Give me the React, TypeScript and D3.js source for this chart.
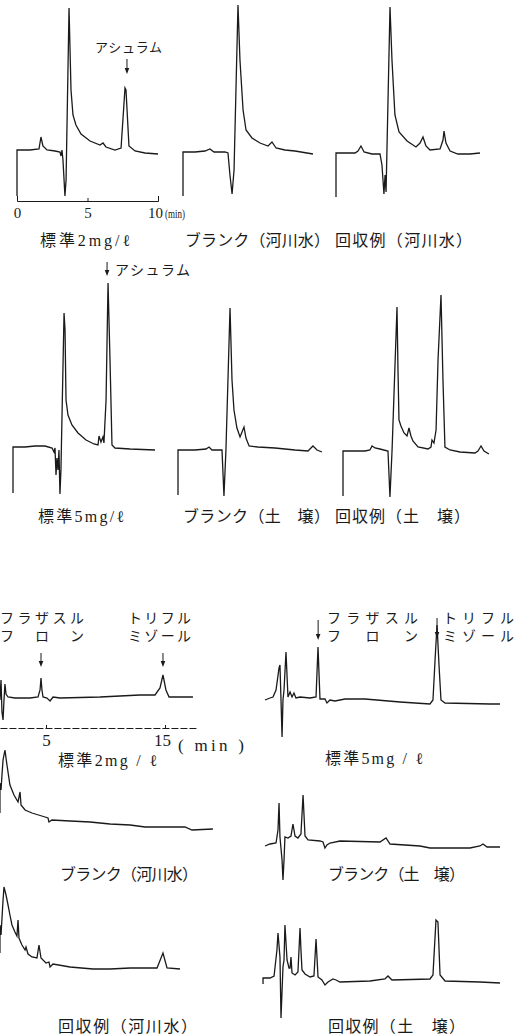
import { useEffect, useRef } from "react";
import * as d3 from "d3";

type Pt = [number, number];

// [retention time (min), detector response (arbitrary units, 0 = baseline)]
// ---- asulam, upper two rows ----
const asulamStd2: Pt[] = [
  [0, -46], [0, 0], [0.92, 0], [1.56, 1], [1.7, 13], [1.84, 4], [2.13, 0], [2.7, -1],
  [3.05, -2], [3.12, -6], [3.19, 0], [3.26, -10], [3.4, -46], [3.48, -30], [3.69, 142],
  [3.83, 60], [3.97, 35], [4.18, 25], [4.54, 16], [5.18, 9], [5.89, 5], [6.1, 7],
  [6.31, 3], [6.95, 0], [7.38, 2], [7.66, 62], [7.73, 60], [7.94, 4], [8.37, -1],
  [9.08, -3], [10.0, -4],
];
const asulamBlankRiver: Pt[] = [
  [0, -44], [0, 0], [0.85, 0], [1.56, 1], [1.91, 3], [2.2, 0], [2.98, 0], [3.19, -1],
  [3.33, -23], [3.48, -42], [3.62, -18], [3.9, 147], [4.04, 92], [4.26, 42], [4.47, 22],
  [4.89, 14], [5.46, 9], [6.03, 6], [6.31, 10], [6.6, 4], [7.23, 2], [7.94, 1], [9.22, -2],
];
const asulamRecRiver: Pt[] = [
  [0, -44], [0, 0], [1.35, 0], [1.56, 2], [1.77, 7], [1.99, 1], [2.55, -1], [3.12, -1],
  [3.26, -12], [3.4, -41], [3.48, -22], [3.55, -39], [3.83, 146], [3.97, 93], [4.18, 38],
  [4.47, 21], [5.04, 12], [5.67, 6], [5.96, 10], [6.17, 16], [6.38, 7], [6.67, 3],
  [7.38, 4], [7.59, 13], [7.66, 22], [7.8, 10], [8.09, 2], [8.65, -1], [9.5, -1], [10.21, 0],
];
const asulamStd5: Pt[] = [
  [0, -46], [0, 0], [0.85, 0], [1.56, 1], [2.27, 1], [2.77, -1], [2.91, -5], [2.98, -1],
  [3.05, -28], [3.12, -11], [3.19, -23], [3.26, -3], [3.33, -47], [3.4, -23], [3.62, 134],
  [3.69, 117], [3.76, 47], [3.9, 32], [4.18, 22], [4.61, 14], [5.18, 7], [5.74, 3],
  [6.03, 2], [6.1, 11], [6.24, 5], [6.38, 10], [6.45, 4], [6.6, 47], [6.74, 164],
  [6.88, 87], [7.02, 2], [7.23, -1], [8.3, -2], [10.07, -3],
];
const asulamBlankSoil: Pt[] = [
  [0, -45], [0, 0], [1.21, 0], [1.99, 1], [2.2, 3], [2.41, 0], [3.12, 0], [3.26, -46],
  [3.4, 0], [3.69, 142], [3.83, 70], [3.97, 40], [4.18, 22], [4.4, 13], [4.54, 18],
  [4.68, 23], [4.82, 12], [5.04, 4], [5.67, 3], [6.88, 2], [8.3, 0], [9.22, -1],
  [9.57, 4], [9.86, 0], [10.21, -2],
];
const asulamRecSoil: Pt[] = [
  [0, -45], [0, 0], [1.56, 0], [1.91, 1], [2.06, 5], [2.27, 3], [2.62, 2], [3.19, 0],
  [3.33, -46], [3.48, 1], [3.83, 144], [3.9, 81], [3.97, 31], [4.11, 25], [4.33, 18],
  [4.54, 15], [4.68, 23], [4.82, 15], [4.96, 10], [5.32, 4], [6.03, 2], [6.24, 4],
  [6.31, 11], [6.45, 8], [6.6, 21], [6.74, 91], [6.95, 156], [7.09, 71], [7.23, 4],
  [7.59, 1], [8.3, -1], [9.36, -2], [9.57, 0], [9.79, 5], [10.0, 0], [10.35, -3],
];

// ---- flazasulfuron / triflumizole, lower block ----
const fzStd2: Pt[] = [
  [1.13, -2], [1.22, 18], [1.3, -14], [1.39, -22], [1.47, -2], [1.55, 14], [1.64, 4],
  [1.81, 1], [2.39, 0], [3.66, 0], [4.33, 1], [4.5, 8], [4.58, 20], [4.66, 8], [4.75, 1],
  [5.08, 0], [5.34, -3], [5.59, 1], [6.18, 0], [9.54, 1], [12.9, 3], [14.16, 3],
  [14.58, 10], [14.83, 23], [15.08, 8], [15.34, 1], [17.35, 1],
];
const fzBlankRiver: Pt[] = [
  [1.13, 9], [1.13, 39], [1.22, 32], [1.3, 47], [1.39, 62], [1.55, 72], [1.72, 57],
  [1.97, 37], [2.31, 27], [2.65, 20], [2.82, 30], [2.9, 17], [3.24, 12], [3.82, 9],
  [4.92, 5], [5.17, 4], [5.25, 0], [5.5, 2], [7.02, 1], [8.7, 0], [10.38, -2],
  [12.07, -3], [13.33, -5], [16.68, -5], [17.27, -8], [19.03, -7],
];
const fzRecRiver: Pt[] = [
  [1.13, 15], [1.13, 43], [1.22, 33], [1.39, 68], [1.47, 81], [1.64, 73], [1.81, 63],
  [1.97, 53], [2.14, 43], [2.39, 36], [2.56, 32], [2.65, 48], [2.73, 30], [2.98, 23],
  [3.24, 18], [3.32, 21], [3.49, 14], [3.82, 11], [4.24, 10], [4.41, 23], [4.58, 10],
  [5.0, 5], [5.25, 6], [5.34, 1], [5.59, 4], [7.02, 1], [8.95, -1], [10.38, -1],
  [12.07, 0], [14.33, 0], [14.83, 15], [15.17, 0], [16.26, -1],
];
const fzStd5: Pt[] = [
  [0, 0], [0.43, 2], [0.69, 3], [0.95, 10], [1.21, 32], [1.29, 35], [1.38, 0],
  [1.47, -37], [1.55, 0], [1.64, 10], [1.81, 48], [1.98, 3], [2.16, 8], [2.33, 3],
  [2.5, 7], [2.67, 2], [3.02, 3], [3.88, 2], [4.4, 3], [4.57, 53], [4.74, 1], [5.17, 1],
  [5.34, -3], [5.6, 0], [6.03, -1], [6.9, 1], [8.62, 1], [11.64, -2], [14.22, -4],
  [14.48, 0], [14.66, 40], [14.83, 75], [15.0, 35], [15.17, 0], [15.52, -3], [19.4, -4],
  [20.26, -4],
];
const fzBlankSoil: Pt[] = [
  [0, -3], [0.43, -1], [0.95, 0], [1.12, 13], [1.21, 40], [1.29, 6], [1.47, -17],
  [1.55, -37], [1.64, -17], [1.72, 6], [1.98, 5], [2.24, 7], [2.41, 19], [2.59, 7],
  [2.84, 5], [3.1, 9], [3.28, 48], [3.45, 7], [3.71, 3], [4.74, 2], [5.0, 1], [5.17, -5],
  [5.34, -2], [5.6, 0], [6.47, 2], [9.91, 1], [10.43, 5], [10.78, -1], [13.36, -3],
  [14.22, -5], [17.67, -5], [18.53, -3], [18.79, -1], [19.14, -4], [20.26, -4],
];
const fzRecSoil: Pt[] = [
  [-0.17, -6], [-0.17, 0], [0.43, 0], [0.78, 2], [1.03, 28], [1.12, 45], [1.29, 21],
  [1.38, -40], [1.55, 11], [1.64, 18], [1.72, 53], [1.9, 18], [2.07, 10], [2.16, 10],
  [2.24, 21], [2.33, 5], [2.59, 3], [2.84, 6], [2.93, 28], [3.02, 50], [3.1, 28],
  [3.19, 8], [3.45, 4], [3.88, 1], [4.22, 2], [4.4, 39], [4.57, 1], [4.91, -2],
  [5.17, -7], [5.43, -4], [5.86, -1], [6.12, -2], [6.47, -4], [9.05, -3], [10.34, -1],
  [10.6, 2], [10.95, -2], [14.22, -1], [14.48, 3], [14.74, 58], [14.91, 56], [15.09, 3],
  [15.52, -3], [18.53, -4], [20.26, -5],
];

const asulamTicks = [0, 5, 10];
const fzTicks = [5, 15];
const asulamRT = [7.8, 6.67]; // arrowed peak, std 2 / std 5
const fzRT = [4.58, 14.83];   // flazasulfuron, triflumizole

const topLabels = ["標準2mg/ℓ", "ブランク（河川水）", "回収例（河川水）"];
const midLabels = ["標準5mg/ℓ", "ブランク（土　壌）", "回収例（土　壌）"];
const lowLabels = ["標準2mg / ℓ", "標準5mg / ℓ", "ブランク（河川水）", "ブランク（土　壌）", "回収例（河川水）", "回収例（土　壌）"];
const compA = ["フラザスル", "フ　ロ　ン"];
const compB = ["トリフル", "ミゾール"];

const SERIF = "'Liberation Serif', 'DejaVu Serif', serif";
const MIX = "'Liberation Serif', 'Noto Sans CJK JP', serif";
const JP = "'Noto Sans CJK JP', sans-serif";
const INK = "#1a1a1a";

// x0 = pixel of t=0, ppm = pixels per minute, base = pixel of the baseline
const scales = (x0: number, ppm: number, base: number) => ({
  x: d3.scaleLinear().domain([0, 1]).range([x0, x0 + ppm]),
  y: d3.scaleLinear().domain([0, 1]).range([base, base - 1]),
});

const panels = [
  { data: asulamStd2, x0: 17, ppm: 14.1, base: 150, label: topLabels[0], lx: 40, lw: 90, ly: 240 },
  { data: asulamBlankRiver, x0: 183, ppm: 14.1, base: 152, label: topLabels[1], lx: 185, lw: 145, ly: 240 },
  { data: asulamRecRiver, x0: 336, ppm: 14.1, base: 153, label: topLabels[2], lx: 335, lw: 137, ly: 240 },
  { data: asulamStd5, x0: 13, ppm: 14.1, base: 447, label: midLabels[0], lx: 38, lw: 86, ly: 516 },
  { data: asulamBlankSoil, x0: 178, ppm: 14.1, base: 450, label: midLabels[1], lx: 183, lw: 147, ly: 516 },
  { data: asulamRecSoil, x0: 343, ppm: 14.1, base: 451, label: midLabels[2], lx: 335, lw: 135, ly: 516 },
  { data: fzStd2, x0: -13.5, ppm: 11.9, base: 698, label: lowLabels[0], lx: 58, lw: 99, ly: 760 },
  { data: fzStd5, x0: 265, ppm: 11.6, base: 700, label: lowLabels[1], lx: 325, lw: 98, ly: 758 },
  { data: fzBlankRiver, x0: -13.5, ppm: 11.9, base: 822, label: lowLabels[2], lx: 60, lw: 138, ly: 874 },
  { data: fzBlankSoil, x0: 265, ppm: 11.6, base: 843, label: lowLabels[3], lx: 328, lw: 137, ly: 874 },
  { data: fzRecRiver, x0: -13.5, ppm: 11.9, base: 968, label: lowLabels[4], lx: 58, lw: 139, ly: 1026 },
  { data: fzRecSoil, x0: 265, ppm: 11.6, base: 978, label: lowLabels[5], lx: 328, lw: 137, ly: 1026 },
];

const Arrow = ({ x, y1, y2 }: { x: number; y1: number; y2: number }) => (
  <g>
    <line x1={x} x2={x} y1={y1} y2={y2 - 3} stroke={INK} strokeWidth={1} />
    <path d={`M${x - 2.3},${y2 - 6}L${x},${y2}L${x + 2.3},${y2 - 6}Z`} fill={INK} />
  </g>
);

export default function App() {
  const axTop = useRef<SVGGElement>(null);
  const axLow = useRef<SVGGElement>(null);

  const sTop = scales(17, 14.1, 150).x;
  const sLow = scales(-13.5, 11.9, 698).x;
  const sLowR = scales(265, 11.6, 700).x;
  const sMid = scales(13, 14.1, 447).x;

  useEffect(() => {
    const a = d3.scaleLinear().domain([0, 10]).range([sTop(0), sTop(10)]);
    const g1 = d3.select(axTop.current);
    g1.selectAll("*").remove();
    g1.call(d3.axisBottom(a).tickValues(asulamTicks).tickSizeInner(-3).tickSizeOuter(-5).tickPadding(6));
    g1.selectAll("text").style("font-family", SERIF).style("font-size", "15px").attr("fill", INK);
    g1.selectAll(".tick:last-of-type text").attr("dx", "-3");
    g1.selectAll("line, path").attr("stroke", INK).attr("stroke-width", 1);

    const b = d3.scaleLinear().domain([1.13, 17.68]).range([sLow(1.13), sLow(17.68)]);
    const g2 = d3.select(axLow.current);
    g2.selectAll("*").remove();
    g2.call(d3.axisBottom(b).tickValues(fzTicks).tickSizeInner(-3).tickSizeOuter(0).tickPadding(6));
    g2.selectAll("text").style("font-family", SERIF).style("font-size", "17px").attr("fill", INK);
    g2.selectAll(".tick:last-of-type text").attr("dx", "-3");
    g2.selectAll("line, path").attr("stroke", INK).attr("stroke-width", 1);
    g2.select(".domain").attr("stroke-dasharray", "7,2");
  }, []);

  return (
    <svg width={521} height={1036} style={{ position: "absolute", left: 0, top: 0, display: "block" }}>
      <rect width={521} height={1036} fill="#fff" />

      {panels.map((p, i) => {
        const { x, y } = scales(p.x0, p.ppm, p.base);
        const line = d3.line<Pt>().x(d => x(d[0])).y(d => y(d[1]));
        return (
          <g key={i}>
            <path d={line(p.data) ?? ""} fill="none" stroke={INK} strokeWidth={1.3} />
            <text x={p.lx} y={p.ly} textLength={p.lw} lengthAdjust="spacing" dominantBaseline="central"
              fontFamily={MIX} fontSize={16} fill={INK}>{p.label}</text>
          </g>
        );
      })}

      {/* axes */}
      <g ref={axTop} transform="translate(0,201)" />
      <text x={165} y={214} dominantBaseline="central" fontFamily={SERIF} fontSize={12}
        textLength={20} lengthAdjust="spacingAndGlyphs" fill={INK}>(min)</text>
      <g ref={axLow} transform="translate(0,728)" />
      <text x={178} y={745} dominantBaseline="central" fontFamily={SERIF} fontSize={17}
        textLength={66} lengthAdjust="spacing" fill={INK}>( min )</text>

      {/* asulam annotations */}
      <text x={95} y={46} textLength={67} lengthAdjust="spacing" dominantBaseline="central"
        fontFamily={JP} fontSize={13} fill={INK}>アシュラム</text>
      <Arrow x={sTop(asulamRT[0])} y1={59} y2={74} />
      <Arrow x={sMid(asulamRT[1])} y1={262} y2={276} />
      <text x={115} y={269} textLength={75} lengthAdjust="spacing" dominantBaseline="central"
        fontFamily={JP} fontSize={14} fill={INK}>アシュラム</text>

      {/* flazasulfuron / triflumizole annotations */}
      <Arrow x={sLow(fzRT[0])} y1={653} y2={667} />
      <Arrow x={sLow(fzRT[1])} y1={653} y2={667} />
      <Arrow x={sLowR(fzRT[0])} y1={620} y2={640} />
      <Arrow x={sLowR(fzRT[1])} y1={618} y2={638} />
      {[
        { x: 0, w: 84, t: compA },
        { x: 128, w: 63, t: compB },
        { x: 327, w: 91, t: compA },
        { x: 443, w: 71, t: compB },
      ].map((c, i) => (
        <g key={i}>
          {c.t.map((s, j) => (
            <text key={j} x={c.x} y={617 + j * 18} textLength={c.w} lengthAdjust="spacing"
              dominantBaseline="central" fontFamily={JP} fontSize={14} fill={INK}>{s}</text>
          ))}
        </g>
      ))}
    </svg>
  );
}
